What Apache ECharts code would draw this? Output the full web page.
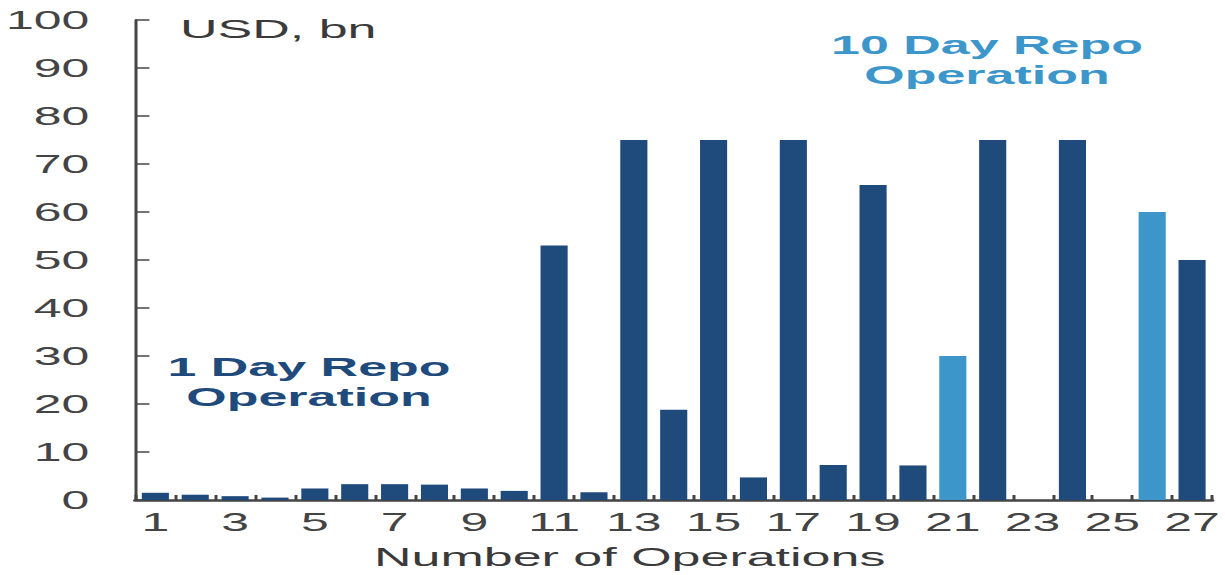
<!DOCTYPE html>
<html>
<head>
<meta charset="utf-8">
<script src="https://cdn.jsdelivr.net/npm/echarts@6/dist/echarts.min.js"></script>
<style>
  html, body { margin: 0; padding: 0; background: #ffffff; overflow: hidden; }
  /* The chart is laid out at half width and widened 2x, giving the broad lettering */
  #wrap { width: 1225px; height: 575px; overflow: hidden; }
  #chart { width: 612.5px; height: 575px; transform: scaleX(2); transform-origin: 0 0; }
</style>
</head>
<body>
<div id="wrap"><div id="chart"></div></div>
<script>
// Repo operations, USD bn
const categories = ['1','2','3','4','5','6','7','8','9','10','11','12','13','14','15','16','17','18','19','20','21','22','23','24','25','26','27'];
const amounts = [1.5, 1.1, 0.8, 0.5, 2.4, 3.3, 3.3, 3.2, 2.4, 1.9, 53, 1.6, 75, 18.8, 75, 4.7, 75, 7.3, 65.6, 7.2, 30, 75, 0, 75, 0, 60, 50];
// Term of each operation in days
const termDays = [1,1,1,1,1,1,1,1,1,1,1,1,1,1,1,1,1,1,1,1,10,1,1,1,1,10,1];
const yTicks = { min: 0, max: 100, interval: 10 };

const DARK = '#1f4a7c';
const LIGHT = '#3d96ca';
const FONT = '"Liberation Sans", Arial, sans-serif';

const barData = amounts.map((v, i) => ({
  value: v,
  itemStyle: { color: termDays[i] === 10 ? LIGHT : DARK }
}));

const chart = echarts.init(document.getElementById('chart'), null, { renderer: 'svg' });
chart.setOption({
  animation: false,
  backgroundColor: '#ffffff',
  grid: { left: 67, right: 7, top: 20, bottom: 75, containLabel: false },
  xAxis: {
    type: 'category',
    data: categories,
    boundaryGap: true,
    name: 'Number of Operations',
    nameLocation: 'middle',
    nameGap: 44,
    nameTextStyle: { fontFamily: FONT, fontSize: 26, color: '#3a3a3a', padding: [0, 44, 0, 0] },
    axisLine: { show: true, lineStyle: { color: '#444', width: 2.5 } },
    axisTick: { show: true, inside: true, length: 5, alignWithLabel: false, interval: 0, lineStyle: { color: '#444', width: 1.5 } },
    axisLabel: { interval: 1, fontFamily: FONT, fontSize: 25, color: '#444', margin: 10 }
  },
  yAxis: {
    type: 'value',
    min: yTicks.min,
    max: yTicks.max,
    interval: yTicks.interval,
    axisLine: { show: true, lineStyle: { color: '#444', width: 1.5 } },
    axisTick: { show: true, inside: true, length: 7, lineStyle: { color: '#444', width: 1.5 } },
    splitLine: { show: false },
    axisLabel: { fontFamily: FONT, fontSize: 25, color: '#444', margin: 23 }
  },
  series: [{
    type: 'bar',
    data: barData,
    barWidth: '68%'
  }],
  graphic: [
    {
      type: 'text', left: 90, top: 16,
      style: { text: 'USD, bn', fontFamily: FONT, fontSize: 26, fill: '#3a3a3a' }
    },
    {
      type: 'text', x: 154.5, y: 382,
      style: {
        text: '1 Day Repo\nOperation', fontFamily: FONT, fontSize: 26, fontWeight: 'bold',
        lineHeight: 30, fill: DARK, align: 'center', verticalAlign: 'middle'
      }
    },
    {
      type: 'text', x: 493.5, y: 60,
      style: {
        text: '10 Day Repo\nOperation', fontFamily: FONT, fontSize: 26, fontWeight: 'bold',
        lineHeight: 30, fill: LIGHT, align: 'center', verticalAlign: 'middle'
      }
    }
  ]
});
</script>
</body>
</html>
